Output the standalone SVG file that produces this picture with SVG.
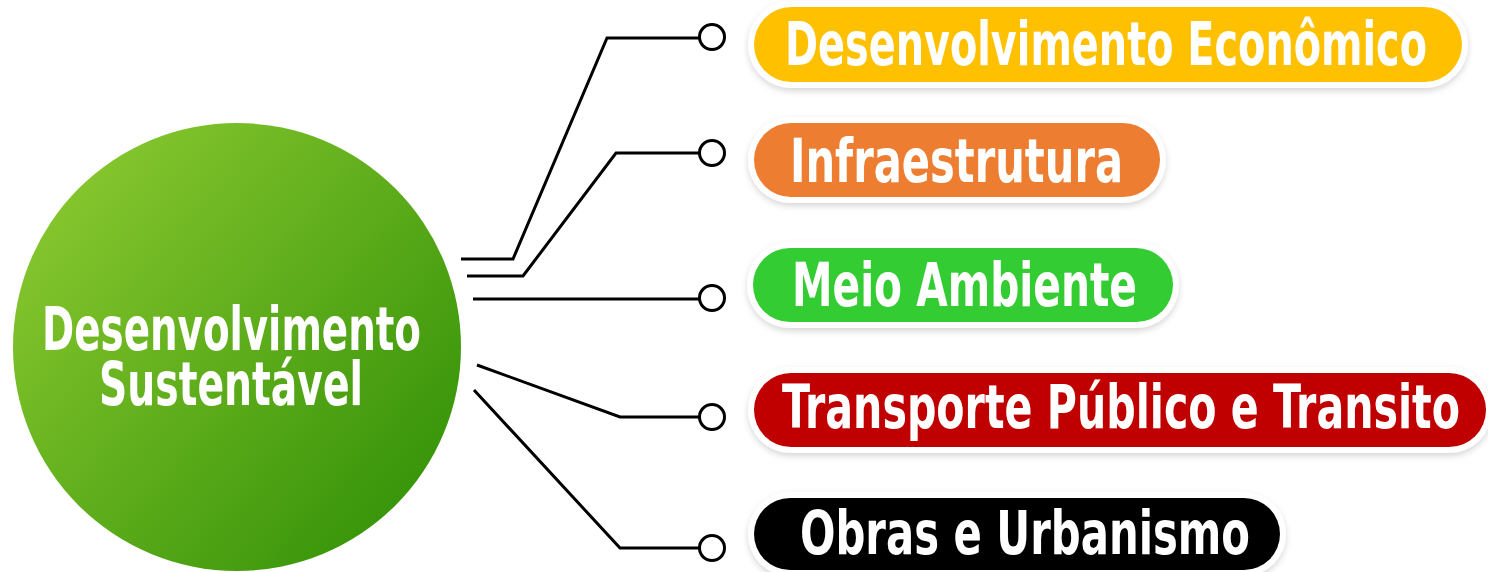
<svg xmlns="http://www.w3.org/2000/svg" width="1488" height="572" viewBox="0 0 1488 572">
  <defs>
    <linearGradient id="gGreen" x1="0.1" y1="0.15" x2="0.9" y2="0.85">
      <stop offset="0" stop-color="#86C62E"/>
      <stop offset="1" stop-color="#379409"/>
    </linearGradient>
    <filter id="halo" x="-10%" y="-40%" width="120%" height="180%">
      <feDropShadow dx="0" dy="3" stdDeviation="3" flood-color="#000" flood-opacity="0.16"/>
    </filter>
    <style>
      .lbl { font-family: "Liberation Sans Narrow", "DejaVu Sans Condensed", "Liberation Sans", sans-serif; font-weight: bold; fill: #fff; font-size: 44px; }
      .halo { fill: #fff; filter: url(#halo); }
      .conn { fill: none; stroke: #000; stroke-width: 3; stroke-linejoin: miter; }
      .dot { fill: #fff; stroke: #000; stroke-width: 3; }
    </style>
  </defs>
  <rect width="1488" height="572" fill="#fff"/>

  <g id="connectors">
    <path class="conn" d="M461,259 H513 L607,38 H699"/>
    <path class="conn" d="M467,276 H523 L616,153 H699"/>
    <path class="conn" d="M473,299 H699"/>
    <path class="conn" d="M477,365 L620,417 H699"/>
    <path class="conn" d="M474,390 L620,548 H699"/>
    <circle class="dot" cx="712" cy="37" r="12.5"/>
    <circle class="dot" cx="712" cy="153" r="12.5"/>
    <circle class="dot" cx="712" cy="298" r="12.5"/>
    <circle class="dot" cx="712" cy="417" r="12.5"/>
    <circle class="dot" cx="712" cy="548" r="12.5"/>
  </g>

  <g id="center">
    <circle cx="237" cy="347" r="224" fill="url(#gGreen)"/>
    <text class="lbl" transform="scale(1,1.38)"><tspan x="42" y="253.6" textLength="379" lengthAdjust="spacingAndGlyphs">Desenvolvimento</tspan><tspan x="99" y="293.5" textLength="264" lengthAdjust="spacingAndGlyphs">Sustentável</tspan></text>
  </g>

  <g id="economico">
    <rect class="halo" x="748" y="1" width="720" height="87" rx="43.5"/>
    <rect x="754" y="7" width="708" height="75" rx="37.5" fill="#FFC000"/>
    <text class="lbl" transform="translate(785,65) scale(1,1.38)" textLength="642" lengthAdjust="spacingAndGlyphs">Desenvolvimento Econômico</text>
  </g>

  <g id="infraestrutura">
    <rect class="halo" x="748" y="117" width="418" height="86" rx="43"/>
    <rect x="754" y="123" width="406" height="74" rx="37" fill="#ED7D31"/>
    <text class="lbl" transform="translate(790,182) scale(1,1.38)" textLength="333" lengthAdjust="spacingAndGlyphs">Infraestrutura</text>
  </g>

  <g id="meio-ambiente">
    <rect class="halo" x="747" y="242" width="432" height="86" rx="43"/>
    <rect x="753" y="248" width="420" height="74" rx="37" fill="#33CC33"/>
    <text class="lbl" transform="translate(792,306) scale(1,1.38)" textLength="345" lengthAdjust="spacingAndGlyphs">Meio Ambiente</text>
  </g>

  <g id="transporte">
    <rect class="halo" x="748" y="367" width="744" height="86" rx="43"/>
    <rect x="754" y="373" width="732" height="74" rx="37" fill="#C00000"/>
    <text class="lbl" transform="translate(782,428) scale(1,1.38)" textLength="678" lengthAdjust="spacingAndGlyphs">Transporte Público e Transito</text>
  </g>

  <g id="obras">
    <rect class="halo" x="748" y="492" width="538" height="84" rx="42"/>
    <rect x="754" y="498" width="526" height="72" rx="36" fill="#000"/>
    <text class="lbl" transform="translate(800,554) scale(1,1.38)" textLength="450" lengthAdjust="spacingAndGlyphs">Obras e Urbanismo</text>
  </g>
</svg>
